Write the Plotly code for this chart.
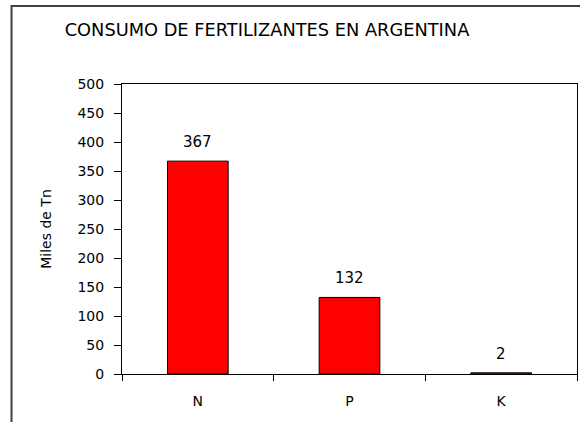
import plotly.graph_objects as go

categories = ["N", "P", "K"]
values = [367, 132, 2]
value_labels = ["367", "132", "2"]
y_ticks = [0, 50, 100, 150, 200, 250, 300, 350, 400, 450, 500]

FONT = "DejaVu Sans, Liberation Sans, Arial, sans-serif"

fig = go.Figure()
fig.add_trace(go.Bar(
    x=categories, y=values, width=0.4,
    marker=dict(color="#FF0000", line=dict(color="#000000", width=1)),
    hoverinfo="x+y",
))

annotations = []
for c, v, t in zip(categories, values, value_labels):
    annotations.append(dict(x=c, y=v, xref="x", yref="y", text=t, showarrow=False,
                            yanchor="middle", yshift=19,
                            font=dict(family=FONT, size=15, color="#000000")))

fig.update_layout(
    width=580, height=422,
    margin=dict(l=122, r=3, t=84, b=48),
    paper_bgcolor="#FFFFFF", plot_bgcolor="#FFFFFF",
    showlegend=False,
    title=dict(text="CONSUMO DE FERTILIZANTES EN ARGENTINA",
               x=267 / 580, xanchor="center", y=1 - 30 / 422, yanchor="middle",
               font=dict(family=FONT, size=17.8, color="#000000")),
    xaxis=dict(
        type="category", tickson="boundaries", ticks="outside", ticklen=6,
        tickcolor="#000000", showline=True, linecolor="#000000", linewidth=1,
        mirror=True, showgrid=False, ticklabelstandoff=14,
        tickfont=dict(family=FONT, size=14, color="#000000"),
    ),
    yaxis=dict(
        range=[0, 500], tickvals=y_ticks, ticks="outside", ticklen=7,
        tickcolor="#000000", showline=True, linecolor="#000000", linewidth=1,
        mirror=True, showgrid=False, zeroline=False, ticklabelstandoff=7,
        tickfont=dict(family=FONT, size=14, color="#000000"),
        title=dict(text="Miles de Tn", standoff=22,
                   font=dict(family=FONT, size=14, color="#000000")),
    ),
    annotations=annotations,
    shapes=[dict(type="rect", xref="paper", yref="paper",
                 x0=(11.5 - 122) / 455, x1=(590 - 122) / 455,
                 y0=(374 - 440) / 290, y1=(374 - 6) / 290,
                 line=dict(color="#404040", width=2), fillcolor="rgba(0,0,0,0)",
                 layer="below")],
)

fig.write_html("out.html", config={"displayModeBar": False},
               post_script="document.body.style.margin='0';")
